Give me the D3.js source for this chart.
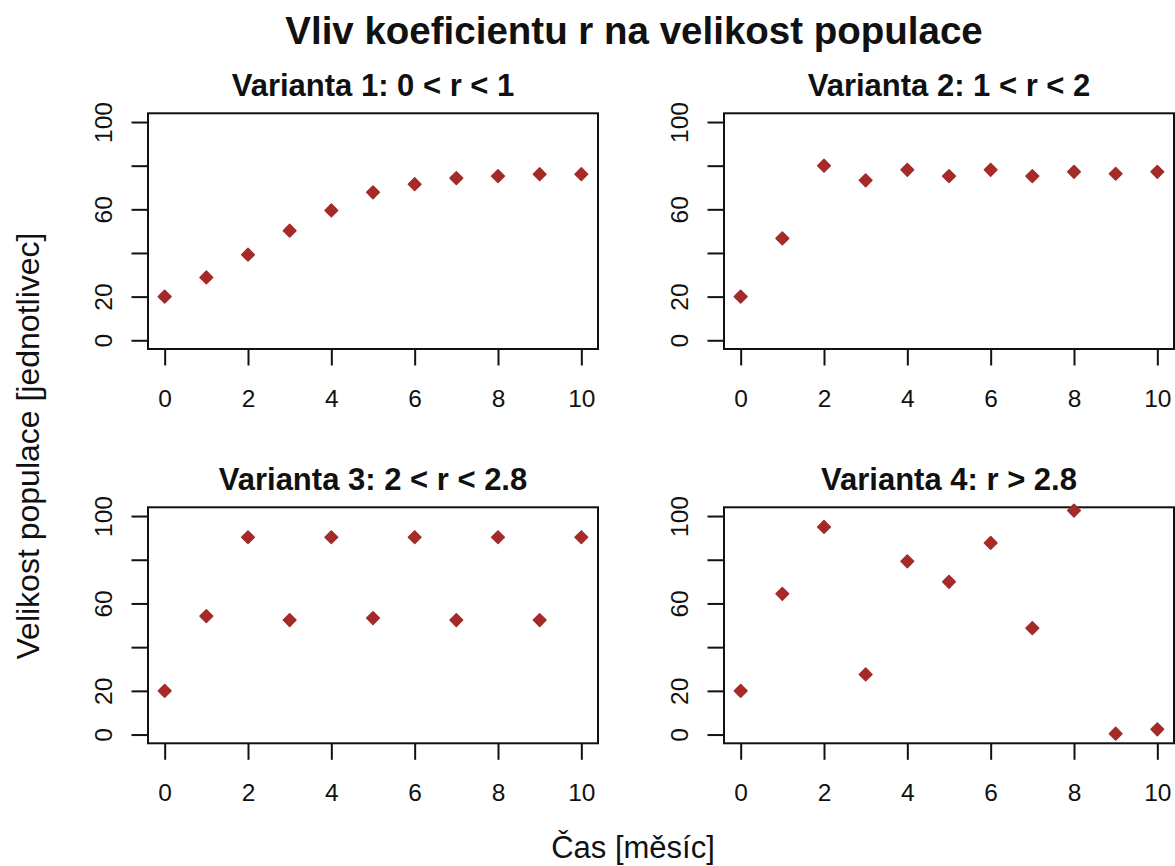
<!DOCTYPE html>
<html>
<head>
<meta charset="utf-8">
<script src="https://cdn.jsdelivr.net/npm/d3@7"></script>
<style>
  html, body { margin: 0; padding: 0; background: #fff; }
  svg { display: block; }
  text { font-family: "Liberation Sans", Arial, sans-serif; fill: #111; }
</style>
</head>
<body>
<svg id="chart" width="1175" height="866"></svg>
<script>
// Months on the horizontal axis
const months = [0, 1, 2, 3, 4, 5, 6, 7, 8, 9, 10];

// Population size for each growth-rate variant
const variant1 = [20, 28.8, 39.2, 50.2, 59.5, 67.8, 71.5, 74.3, 75.2, 76.1, 76.1];
const variant2 = [20, 46.7, 80.0, 73.3, 78.1, 75.2, 78.1, 75.2, 77.2, 76.3, 77.2];
const variant3 = [20, 54.2, 90.3, 52.4, 90.3, 53.3, 90.3, 52.4, 90.3, 52.4, 90.3];
const variant4 = [20, 64.4, 95.0, 27.5, 79.3, 69.9, 87.7, 48.7, 102.5, 0.4, 2.4];

const panelTitles = [
  "Varianta 1: 0 < r < 1",
  "Varianta 2: 1 < r < 2",
  "Varianta 3: 2 < r < 2.8",
  "Varianta 4: r > 2.8"
];

// Axis ticks and which of them carry a label
const xTicks = [0, 2, 4, 6, 8, 10];
const yTicks = [0, 20, 40, 60, 80, 100];
const yTickLabels = ["0", "20", "", "60", "", "100"];

const mainTitle = "Vliv koeficientu r na velikost populace";
const xTitle = "Čas [měsíc]";
const yTitle = "Velikost populace [jednotlivec]";

const seriesList = [variant1, variant2, variant3, variant4];

// Layout of the 2x2 grid
const colX = [[148, 598], [724, 1174]];
const rowY = [[113.3, 349], [507.3, 743.3]];
const pointColor = "#A52A2A";
const tickLen = 16.5;

const svg = d3.select("#chart");

svg.append("text")
  .attr("x", 634).attr("y", 44)
  .attr("text-anchor", "middle")
  .style("font-size", "38.5px").style("font-weight", "bold")
  .text(mainTitle);

svg.append("text")
  .attr("x", 633).attr("y", 858)
  .attr("text-anchor", "middle")
  .style("font-size", "31px")
  .text(xTitle);

svg.append("text")
  .attr("transform", "translate(39,446) rotate(-90)")
  .attr("text-anchor", "middle")
  .style("font-size", "32px")
  .text(yTitle);

const marker = d3.symbol().type(d3.symbolSquare).size(80);

seriesList.forEach((values, i) => {
  const col = i % 2, row = Math.floor(i / 2);
  const [x0, x1] = colX[col];
  const [y0, y1] = rowY[row];

  // R-style 4% padding around the data range
  const x = d3.scaleLinear().domain([-0.4, 10.4]).range([x0, x1]);
  const y = d3.scaleLinear().domain([-4, 104]).range([y1, y0]);

  const g = svg.append("g");

  // Panel title
  g.append("text")
    .attr("x", (x0 + x1) / 2).attr("y", y0 - 17.3)
    .attr("text-anchor", "middle")
    .style("font-size", "31px").style("font-weight", "bold")
    .text(panelTitles[i]);

  // Bottom axis
  const xa = g.append("g")
    .attr("transform", `translate(0,${y1})`)
    .call(d3.axisBottom(x).tickValues(xTicks).tickSize(tickLen).tickFormat(d3.format("d")));
  xa.select(".domain").remove();
  xa.selectAll(".tick line").attr("stroke", "#111").attr("stroke-width", 2);
  xa.selectAll(".tick text")
    .attr("y", 57.5).attr("dy", 0)
    .style("font-size", "24.5px")
    .style("font-family", "'Liberation Sans', Arial, sans-serif")
    .attr("fill", "#111");

  // Left axis with labels parallel to the axis
  const ya = g.append("g")
    .attr("transform", `translate(${x0},0)`)
    .call(d3.axisLeft(y).tickValues(yTicks).tickSize(tickLen)
      .tickFormat((d, k) => yTickLabels[k]));
  ya.select(".domain").remove();
  ya.selectAll(".tick line").attr("stroke", "#111").attr("stroke-width", 2);
  ya.selectAll(".tick text")
    .attr("transform", "rotate(-90)")
    .attr("x", 0).attr("y", -36.5).attr("dy", 0)
    .attr("text-anchor", "middle")
    .style("font-size", "24.5px")
    .style("font-family", "'Liberation Sans', Arial, sans-serif")
    .attr("fill", "#111");

  // Plot frame
  g.append("rect")
    .attr("x", x0).attr("y", y0)
    .attr("width", x1 - x0).attr("height", y1 - y0)
    .attr("fill", "none").attr("stroke", "#111").attr("stroke-width", 2);

  // Points
  g.selectAll("path.pt")
    .data(months.map((m, k) => ({ m, v: values[k] })))
    .join("path")
    .attr("class", "pt")
    .attr("d", marker)
    .attr("transform", d => `translate(${x(d.m)},${y(d.v)}) rotate(45)`)
    .attr("fill", pointColor)
    .attr("stroke", pointColor)
    .attr("stroke-width", 1.5)
    .attr("stroke-linejoin", "round");
});
</script>
</body>
</html>
